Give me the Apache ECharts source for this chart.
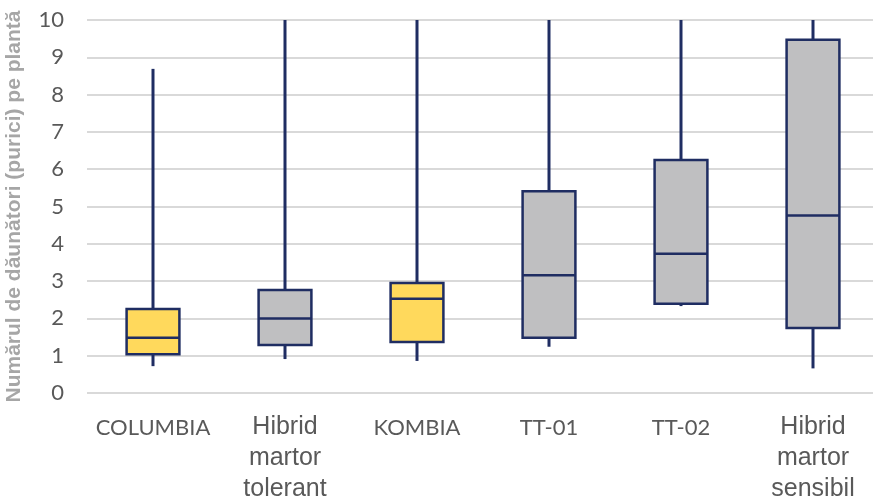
<!DOCTYPE html>
<html>
<head>
<meta charset="utf-8">
<script src="https://cdn.jsdelivr.net/npm/echarts@6/dist/echarts.min.js"></script>
<style>html,body{margin:0;padding:0;background:#fff}#c{width:873px;height:497px}</style>
</head>
<body>
<div id="c"></div>
<script>
var categories = ['COLUMBIA', 'Hibrid\nmartor\ntolerant', 'KOMBIA', 'TT-01', 'TT-02', 'Hibrid\nmartor\nsensibil'];
// five-number summaries
var mins    = [0.72, 0.91, 0.86, 1.24, 2.33, 0.66];
var q1s     = [1.04, 1.29, 1.37, 1.48, 2.39, 1.74];
var medians = [1.48, 2.00, 2.53, 3.16, 3.73, 4.76];
var q3s     = [2.25, 2.76, 2.95, 5.41, 6.25, 9.47];
var maxs    = [8.69, 10, 10, 10, 10, 10];
var fills   = ['#FFD95C', '#BFBFC1', '#FFD95C', '#BFBFC1', '#BFBFC1', '#BFBFC1'];
var yTicks  = [0, 1, 2, 3, 4, 5, 6, 7, 8, 9, 10];

var data = categories.map(function (c, i) {
  return [i, mins[i], q1s[i], medians[i], q3s[i], maxs[i]];
});

var NAVY = '#1F2D62';

function renderBox(params, api) {
  var i = api.value(0);
  var pMin = api.coord([i, api.value(1)]);
  var pQ1 = api.coord([i, api.value(2)]);
  var pMed = api.coord([i, api.value(3)]);
  var pQ3 = api.coord([i, api.value(4)]);
  var pMax = api.coord([i, api.value(5)]);
  var bw = api.size([1, 0])[0] * 0.4;
  var cx = pQ1[0];
  var x0 = cx - bw / 2, x1 = cx + bw / 2;
  var fill = fills[params.dataIndex];
  return {
    type: 'group',
    children: [
      { type: 'line', shape: { x1: cx, y1: pMax[1], x2: cx, y2: pQ3[1] }, style: { stroke: NAVY, lineWidth: 3 } },
      { type: 'line', shape: { x1: cx, y1: pQ1[1], x2: cx, y2: pMin[1] }, style: { stroke: NAVY, lineWidth: 3 } },
      { type: 'rect', shape: { x: x0, y: pQ3[1], width: bw, height: pQ1[1] - pQ3[1] }, style: { fill: fill, stroke: NAVY, lineWidth: 2.5 } },
      { type: 'line', shape: { x1: x0, y1: pMed[1], x2: x1, y2: pMed[1] }, style: { stroke: NAVY, lineWidth: 2.5 } }
    ]
  };
}

var chart = echarts.init(document.getElementById('c'), null, { renderer: 'canvas' });
chart.setOption({
  animation: false,
  grid: { left: 87, right: -6, top: 20, bottom: 104, outerBoundsMode: 'none', containLabel: false },
  xAxis: {
    type: 'category',
    data: categories,
    axisLine: { show: false },
    axisTick: { show: false },
    splitLine: { show: false },
    axisLabel: {
      interval: 0,
      margin: 19,
      color: '#595959',
      formatter: function (v) {
        return v.indexOf('\n') >= 0 ? '{n|' + v.split('\n').join('}\n{n|') + '}' : '{c|' + v + '}';
      },
      rich: {
        n: { fontFamily: 'Liberation Sans, Arial, sans-serif', fontSize: 25, lineHeight: 31, color: '#595959' },
        c: { fontFamily: 'Lato, sans-serif', fontSize: 22, lineHeight: 31, color: '#595959' }
      }
    }
  },
  yAxis: {
    type: 'value',
    min: 0,
    max: 10,
    interval: 1,
    name: 'Numărul de dăunători (purici) pe plantă',
    nameLocation: 'middle',
    nameGap: 62,
    nameTextStyle: { fontFamily: 'Liberation Sans, Arial, sans-serif', fontWeight: 'bold', fontSize: 21, color: '#A6A6A6' },
    axisLine: { show: false },
    axisTick: { show: false },
    axisLabel: {
      margin: 23,
      color: '#595959',
      fontFamily: 'Lato, sans-serif',
      fontSize: 22,
      formatter: function (v) { return yTicks.indexOf(v) >= 0 ? String(v) : ''; }
    },
    splitLine: { lineStyle: { color: '#D9D9D9', width: 2 } }
  },
  series: [{
    type: 'custom',
    data: data,
    encode: { x: 0, y: [1, 2, 3, 4, 5] },
    renderItem: renderBox,
    clip: false
  }]
});
</script>
</body>
</html>
